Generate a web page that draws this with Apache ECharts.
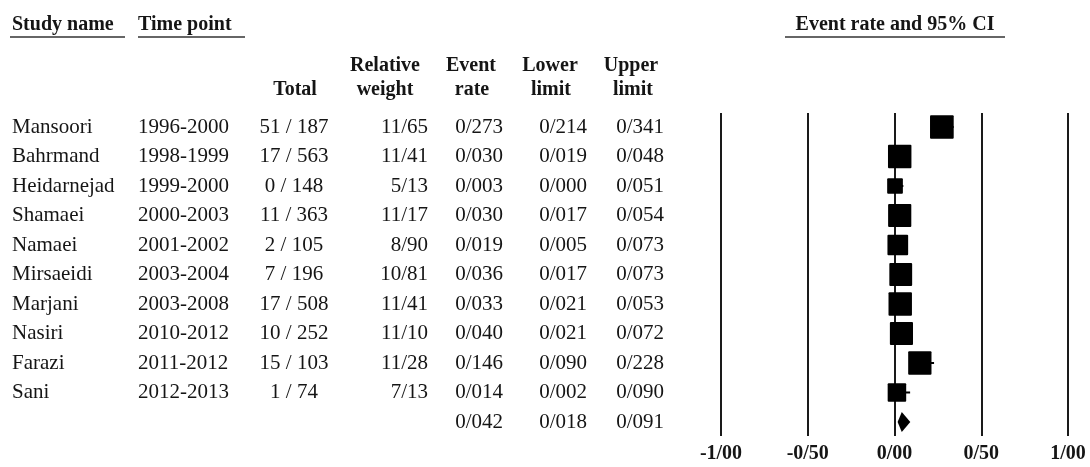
<!DOCTYPE html>
<html><head><meta charset="utf-8">
<script src="https://cdn.jsdelivr.net/npm/echarts@6/dist/echarts.min.js"></script>
<style>html,body{margin:0;padding:0;background:#fff}#chart{width:1090px;height:467px}</style>
</head><body><div id="chart"></div>
<script>
// ---- data ----
const studies = ['Mansoori','Bahrmand','Heidarnejad','Shamaei','Namaei','Mirsaeidi','Marjani','Nasiri','Farazi','Sani'];
const timePoints = ['1996-2000','1998-1999','1999-2000','2000-2003','2001-2002','2003-2004','2003-2008','2010-2012','2011-2012','2012-2013'];
const events = [51,17,0,11,2,7,17,10,15,1];
const totals = [187,563,148,363,105,196,508,252,103,74];
const weights = [11.65,11.41,5.13,11.17,8.90,10.81,11.41,11.10,11.28,7.13];
const eventRates = [0.273,0.030,0.003,0.030,0.019,0.036,0.033,0.040,0.146,0.014];
const lowerLimits = [0.214,0.019,0.000,0.017,0.005,0.017,0.021,0.021,0.090,0.002];
const upperLimits = [0.341,0.048,0.051,0.054,0.073,0.073,0.053,0.072,0.228,0.090];
const summaryRate = 0.042, summaryLower = 0.018, summaryUpper = 0.091;
const axisMin = -1, axisMax = 1, axisStep = 0.5;

// ---- helpers / styles ----
const SERIF = '"Liberation Serif","Times New Roman",serif';
const FONT_DATA = '21px ' + SERIF;
const FONT_HEAD = 'bold 20px ' + SERIF;
const INK = '#151515';
const pf = (v, d) => v.toFixed(d).replace('.', '/');
const nRows = studies.length + 1;
const summaryIdx = studies.length;

function textColumn(x, texts, align, font) {
  return {
    type: 'custom', xAxisIndex: 0, yAxisIndex: 0, silent: true, clip: false,
    data: texts.map((t, i) => [x, i]),
    renderItem: (params, api) => {
      const p = api.coord([api.value(0), api.value(1)]);
      return {type: 'text', x: p[0], y: p[1],
        style: {text: texts[params.dataIndex], align: align, verticalAlign: 'middle', font: font, fill: INK}};
    }
  };
}

const rateCol = eventRates.map(v => pf(v, 3)).concat([pf(summaryRate, 3)]);
const lowCol = lowerLimits.map(v => pf(v, 3)).concat([pf(summaryLower, 3)]);
const upCol = upperLimits.map(v => pf(v, 3)).concat([pf(summaryUpper, 3)]);

const yRange = {min: -0.475, max: 10.475};
const chart = echarts.init(document.getElementById('chart'));

function headText(x, y, text, align) {
  return {type: 'text', x: x, y: y, style: {text: text, align: align || 'center', verticalAlign: 'middle', font: FONT_HEAD, fill: INK}};
}
function underline(x1, x2, y) {
  return {type: 'line', shape: {x1: x1, y1: y, x2: x2, y2: y}, style: {stroke: '#333', lineWidth: 1.6}};
}

chart.setOption({
  animation: false,
  backgroundColor: '#fff',
  grid: [
    {left: 0, right: 0, top: 113, height: 323},
    {left: 721, width: 347, top: 113, height: 323}
  ],
  xAxis: [
    {gridIndex: 0, type: 'value', min: 0, max: 1090, show: false},
    {gridIndex: 1, type: 'value', min: axisMin, max: axisMax, interval: axisStep,
     axisLine: {show: false}, axisTick: {show: false},
     splitLine: {show: true, showMinLine: true, showMaxLine: true, lineStyle: {color: '#1a1a1a', width: 2}},
     axisLabel: {margin: 8, formatter: v => pf(v, 2), font: FONT_HEAD, color: INK, fontWeight: 'bold', fontSize: 20, fontFamily: SERIF}}
  ],
  yAxis: [
    {gridIndex: 0, type: 'value', inverse: true, min: yRange.min, max: yRange.max, show: false},
    {gridIndex: 1, type: 'value', inverse: true, min: yRange.min, max: yRange.max, show: false}
  ],
  graphic: [
    headText(12, 25, 'Study name', 'left'),
    underline(10, 125, 37),
    headText(138, 25, 'Time point', 'left'),
    underline(138, 245, 37),
    headText(895, 25, 'Event rate and 95% CI'),
    underline(785, 1005, 37),
    headText(295, 90, 'Total'),
    headText(385, 66, 'Relative'),
    headText(385, 90, 'weight'),
    headText(471, 66, 'Event'),
    headText(472, 90, 'rate'),
    headText(550, 66, 'Lower'),
    headText(551, 90, 'limit'),
    headText(631, 66, 'Upper'),
    headText(633, 90, 'limit')
  ],
  series: [
    textColumn(12, studies, 'left', FONT_DATA),
    textColumn(138, timePoints, 'left', FONT_DATA),
    textColumn(294, events.map((e, i) => e + ' / ' + totals[i]), 'center', FONT_DATA),
    textColumn(428, weights.map(w => pf(w, 2)), 'right', FONT_DATA),
    textColumn(503, rateCol, 'right', FONT_DATA),
    textColumn(587, lowCol, 'right', FONT_DATA),
    textColumn(664, upCol, 'right', FONT_DATA),
    {
      type: 'custom', xAxisIndex: 1, yAxisIndex: 1, silent: true, clip: false, z: 5,
      data: studies.map((s, i) => [eventRates[i], i, lowerLimits[i], upperLimits[i], weights[i]]),
      renderItem: (params, api) => {
        const c = api.coord([api.value(0), api.value(1)]);
        const lo = api.coord([api.value(2), api.value(1)]);
        const hi = api.coord([api.value(3), api.value(1)]);
        const s = 6.94 * Math.sqrt(api.value(4));
        return {type: 'group', children: [
          {type: 'line', shape: {x1: lo[0], y1: c[1], x2: hi[0], y2: c[1]}, style: {stroke: '#000', lineWidth: 2}},
          {type: 'rect', shape: {x: c[0] - s / 2, y: c[1] - s / 2, width: s, height: s, r: 1}, style: {fill: '#000'}}
        ]};
      }
    },
    {
      type: 'custom', xAxisIndex: 1, yAxisIndex: 1, silent: true, clip: false, z: 5,
      data: [[summaryRate, summaryIdx, summaryLower, summaryUpper]],
      renderItem: (params, api) => {
        const c = api.coord([api.value(0), api.value(1)]);
        const lo = api.coord([api.value(2), api.value(1)]);
        const hi = api.coord([api.value(3), api.value(1)]);
        const h = 10;
        return {type: 'polygon', shape: {points: [[lo[0], c[1]], [c[0], c[1] - h], [hi[0], c[1]], [c[0], c[1] + h]]}, style: {fill: '#000'}};
      }
    }
  ]
});
</script></body></html>
